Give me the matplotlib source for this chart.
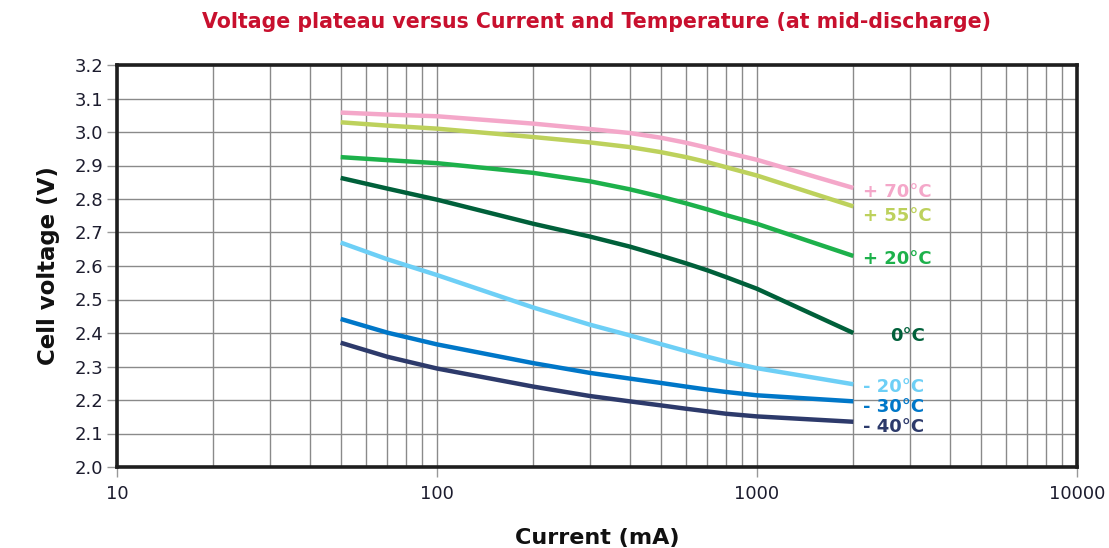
import matplotlib
matplotlib.use("Agg")
import matplotlib.pyplot as plt
from matplotlib.ticker import LogLocator, FixedLocator, NullFormatter, FuncFormatter

current_ma = [50, 70, 100, 200, 300, 400, 500, 600, 700, 800, 1000, 2000]
series = {
    "+ 70°C": [3.058, 3.052, 3.047, 3.025, 3.009, 2.997, 2.983, 2.968, 2.953, 2.939, 2.917, 2.833],
    "+ 55°C": [3.029, 3.019, 3.010, 2.985, 2.969, 2.955, 2.940, 2.925, 2.910, 2.895, 2.870, 2.778],
    "+ 20°C": [2.925, 2.916, 2.907, 2.878, 2.853, 2.829, 2.807, 2.787, 2.769, 2.752, 2.726, 2.630],
    "0°C":    [2.863, 2.831, 2.798, 2.726, 2.688, 2.658, 2.631, 2.608, 2.587, 2.567, 2.532, 2.400],
    "- 20°C": [2.670, 2.620, 2.573, 2.476, 2.425, 2.393, 2.367, 2.346, 2.329, 2.315, 2.295, 2.247],
    "- 30°C": [2.442, 2.401, 2.366, 2.310, 2.281, 2.264, 2.251, 2.240, 2.231, 2.224, 2.214, 2.196],
    "- 40°C": [2.371, 2.329, 2.294, 2.240, 2.212, 2.196, 2.184, 2.174, 2.166, 2.159, 2.151, 2.135],
}
colors = ["#F4A7C9", "#BDD15C", "#1DB14B", "#00603A", "#6DCFF6", "#0077C8", "#2D3A6B"]
label_y = [2.82, 2.75, 2.62, 2.39, 2.24, 2.18, 2.12]
label_x = [2150, 2150, 2150, 2600, 2150, 2150, 2150]

y_ticks = [2.0, 2.1, 2.2, 2.3, 2.4, 2.5, 2.6, 2.7, 2.8, 2.9, 3.0, 3.1, 3.2]
x_ticks = [10, 100, 1000, 10000]

title = "Voltage plateau versus Current and Temperature (at mid-discharge)"

fig = plt.figure(figsize=(11.09, 5.48), dpi=100)
ax = fig.add_axes([117/1109, 1-467/548, (1077-117)/1109, (467-65)/548])

ax.set_xscale("log")
ax.set_xlim(10, 10000)
ax.set_ylim(2.0, 3.2)

grid_c = "#8a8a8a"
ax.xaxis.set_major_locator(FixedLocator(x_ticks))
ax.xaxis.set_minor_locator(LogLocator(base=10, subs=range(2, 10)))
ax.xaxis.set_minor_formatter(NullFormatter())
ax.xaxis.set_major_formatter(FuncFormatter(lambda v, p: f"{int(v)}"))
ax.set_yticks(y_ticks)
ax.yaxis.set_major_formatter(FuncFormatter(lambda v, p: f"{v:.1f}"))

ax.grid(True, which="major", axis="both", color=grid_c, lw=1.0)
ax.grid(True, which="minor", axis="x", color=grid_c, lw=1.0)
ax.set_axisbelow(True)

for (name, vals), c in zip(series.items(), colors):
    ax.plot(current_ma, vals, color=c, lw=3.2, solid_capstyle="butt",
            solid_joinstyle="round", zorder=3)

for (name, vals), c, lx, ly in zip(series.items(), colors, label_x, label_y):
    ax.text(lx, ly, name, color=c, fontsize=13, fontweight="bold",
            ha="left", va="center", zorder=4)

for s in ax.spines.values():
    s.set_linewidth(2.6)
    s.set_color("#1e1e1e")

ax.tick_params(axis="both", which="major", length=7, width=1, color="#999999",
               labelsize=13, labelcolor="#1c1c2e", pad=3)
ax.tick_params(axis="x", which="minor", length=0)
ax.tick_params(axis="x", which="major", pad=6)

ax.set_xlabel("Current (mA)", fontsize=16, fontweight="bold", color="#111111", labelpad=18)
ax.set_ylabel("Cell voltage (V)", fontsize=16.5, fontweight="bold", color="#111111", labelpad=10)

fig.text(597/1109, 1-22/548, title, ha="center", va="center", color="#C8102E",
         fontsize=14.8, fontweight="bold")

fig.savefig("out.png", dpi=100)
